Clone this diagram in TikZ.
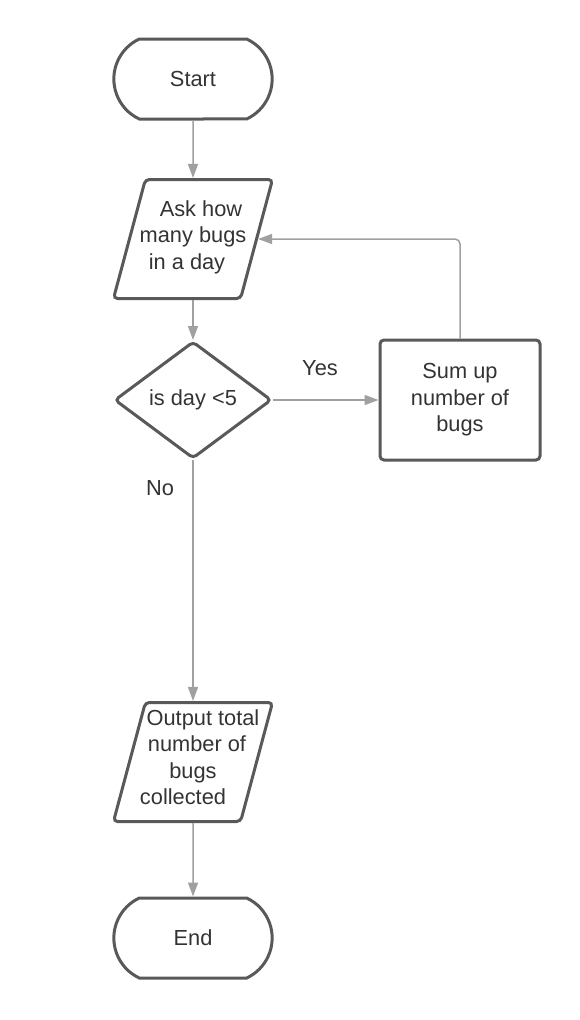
\documentclass[tikz,border=0pt]{standalone}
\usepackage{fontspec}
\setmainfont{Liberation Sans}
\usetikzlibrary{shapes.geometric,shapes.misc,arrows.meta}
\definecolor{shapeline}{HTML}{595959}
\definecolor{flowline}{HTML}{A0A0A0}
\definecolor{textgray}{HTML}{333333}
\begin{document}
\begin{tikzpicture}[x=1pt,y=-1pt,
        every node/.style={font=\fontsize{21.8}{26.5}\selectfont,text=textgray},
        terminal/.style={draw=shapeline,line width=3pt,rounded rectangle,rounded rectangle arc length=130,minimum width=165pt,minimum height=80pt},
        io/.style={draw=shapeline,line width=3pt,trapezium,trapezium left angle=75,trapezium right angle=105,trapezium stretches body,minimum width=159pt,inner sep=0pt,rounded corners=4pt},
        decision/.style={draw=shapeline,line width=3pt,diamond,aspect=1.34,inner sep=1pt,minimum width=157pt,minimum height=117pt,rounded corners=4pt},
        process/.style={draw=shapeline,line width=3pt,rectangle,rounded corners=4pt,minimum width=160pt,minimum height=120pt,align=center},
        flow/.style={draw=flowline,line width=1.5pt,-{Triangle[length=14pt,width=10pt]}}]
        \useasboundingbox (0,0) rectangle (580,1020);
        \node[terminal] (start) at (193,79) {Start};
        \node[io] (ask) at (193,239) {\rule{0pt}{119pt}};
        \node[align=center] (askText) at (193,237) {\hspace*{16pt}Ask how\\many bugs\\in a day\hspace*{12pt}};
        \node[decision] (check) at (193,400) {is day <5};
        \node[process] (sum) at (460,400) {Sum up\\number of\\bugs};
        \node[io] (output) at (193,762) {\rule{0pt}{119pt}};
        \node[align=center] (outputText) at (193,757) {\hspace*{20pt}Output total\\\hspace*{8pt}number of\\bugs\hspace*{6pt}\\collected\hspace*{20pt}};
        \node[terminal] (end) at (193,938) {End};
        \node (yes) at (320,368) {Yes};
        \node (no) at (160,488) {No};
        \draw[flow] (start) -- (ask);
        \draw[flow] (ask) -- (check);
        \draw[flow] (check) -- (sum);
        \draw[flow,rounded corners=5pt] (sum.north) |- (ask.right side);
        \draw[flow] (check) -- (output);
        \draw[flow] (output) -- (end);
\end{tikzpicture}
\end{document}
